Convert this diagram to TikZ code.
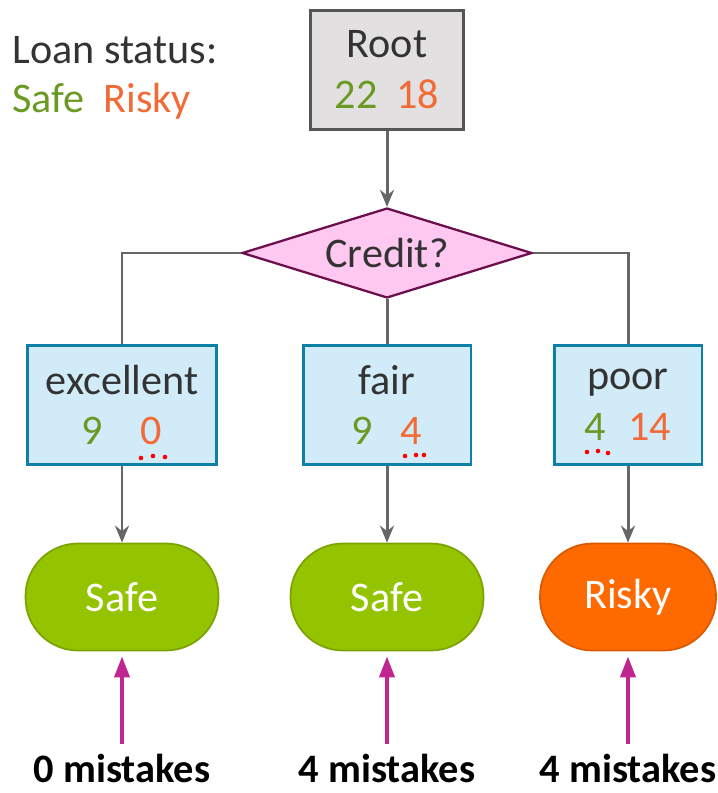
\documentclass[tikz,border=0pt]{standalone}
\usepackage{fontspec}
\setmainfont{Carlito}
\usetikzlibrary{shapes.geometric, arrows.meta}

\definecolor{safetxt}{HTML}{6A9A23}
\definecolor{riskytxt}{HTML}{F26A36}
\definecolor{inktxt}{HTML}{333333}
\definecolor{rootfill}{HTML}{E2E0E0}
\definecolor{rootline}{HTML}{555555}
\definecolor{credfill}{HTML}{FFC8F0}
\definecolor{credline}{HTML}{6B0F4F}
\definecolor{boxfill}{HTML}{D1ECF8}
\definecolor{boxline}{HTML}{0E7FA6}
\definecolor{leafgreen}{HTML}{94C300}
\definecolor{leafgreenline}{HTML}{7DA300}
\definecolor{leaforange}{HTML}{FF6A00}
\definecolor{leaforangeline}{HTML}{D95A00}
\definecolor{linkgray}{HTML}{666666}
\definecolor{mistake}{HTML}{C0268F}

\newcommand{\safenum}[1]{\textcolor{safetxt}{#1}}
\newcommand{\risknum}[1]{\textcolor{riskytxt}{#1}}

\begin{document}
\begin{tikzpicture}[x=0.02cm, y=-0.02cm, font=\fontsize{24}{29}\selectfont, text=inktxt]
  \tikzset{
    rootbox/.style={draw=rootline, fill=rootfill, line width=1.7pt, minimum width=3.06cm, minimum height=2.38cm, align=center},
    split/.style={diamond, draw=credline, fill=credfill, line width=1.3pt, aspect=3.2, minimum width=5.8cm, minimum height=1.8cm, inner sep=0pt},
    branch/.style={draw=boxline, fill=boxfill, line width=1.7pt, minimum height=2.4cm, align=center},
    leaf/.style={draw=leafgreenline, fill=leafgreen, line width=1pt, rounded corners=1.05cm, minimum width=3.86cm, minimum height=2.14cm, text=white},
    link/.style={draw=linkgray, line width=1.7pt},
    conn/.style={link, -{Stealth[length=0.34cm, width=0.28cm]}},
    miss/.style={draw=mistake, line width=2.2pt, -{Triangle[length=0.42cm, width=0.3cm]}},
    count/.style={font=\fontsize{23}{28}\selectfont\bfseries, text=black}
  }
  \useasboundingbox (0,0) rectangle (717,793);

  % legend
  \node[anchor=west, inner sep=0pt] (legend) at (12,50) {Loan status:};
  \node[anchor=west, inner sep=0pt] (legendkey) at (12,101) {\safenum{Safe}\ \ \risknum{Risky}};

  % tree
  \node[rootbox] (root) at (387,70) {Root\\ \safenum{22}\ \ \risknum{18}};
  \node[split] (credit) at (387,253) {Credit?};
  \node[branch, minimum width=3.78cm] (excellent) at (122,405) {excellent\\ \safenum{9}\hspace{0.75cm}\risknum{0}};
  \node[branch, minimum width=3.36cm] (fair) at (387,405) {fair\\ \safenum{9}\hspace{0.55cm}\risknum{4}};
  \node[branch, minimum width=2.96cm] (poor) at (628,405) {poor\\ \safenum{4}\hspace{0.45cm}\risknum{14}};
  \node[leaf] (safeA) at (122,597) {Safe};
  \node[leaf] (safeB) at (387,597) {Safe};
  \node[leaf, draw=leaforangeline, fill=leaforange, minimum width=3.52cm] (risky) at (628,597) {Risky};

  \node[count] (countA) at (122,768) {0 mistakes};
  \node[count] (countB) at (387,768) {4 mistakes};
  \node[count] (countC) at (628,768) {4 mistakes};

  \draw[conn] (root) -- (credit);
  \draw[link] (credit.west) -| (excellent.north);
  \draw[link] (credit.south) -- (fair.north);
  \draw[link] (credit.east) -| (poor.north);
  \foreach \a/\b in {excellent/safeA, fair/safeB, poor/risky}
    \draw[conn] (\a) -- (\b);
  \foreach \a/\b in {countA/safeA, countB/safeB, countC/risky}
    \draw[miss, shorten <=0.06cm, shorten >=0.1cm] (\a) -- (\b);

  % spell-check dots
  \foreach \x/\y in {141/458, 153/456, 165/457, 405/456, 416/455, 424/455, 587/452, 598/451, 608/453}
    \fill[red] (\x,\y) circle (1.3pt);
\end{tikzpicture}
\end{document}
